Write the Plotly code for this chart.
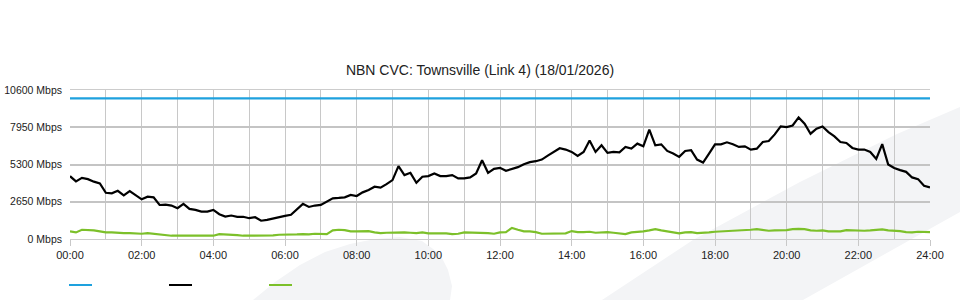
import plotly.graph_objects as go

# ---- data ----
minutes = [10 * i for i in range(145)]          # 00:00 .. 24:00 every 10 min
hours = [m / 60 for m in minutes]

capacity_hours = [0, 24]
capacity_mbps = [10000, 10000]

traffic_mbps = [
    4470, 4100, 4350, 4260, 4080, 3950, 3290, 3250, 3430, 3110, 3410, 3130,
    2820, 3010, 2960, 2420, 2450, 2380, 2190, 2500, 2140, 2070, 1950, 1950,
    2070, 1760, 1600, 1670, 1580, 1580, 1480, 1550, 1300, 1360, 1460, 1600,
    1650, 1720, 2120, 2500, 2280, 2380, 2424, 2636, 2895, 2920, 2966, 3131,
    3060, 3319, 3484, 3720, 3650, 3908, 4191, 5181, 4545, 4709, 4002, 4427,
    4474, 4662, 4474, 4474, 4545, 4309, 4309, 4380, 4662, 5605, 4709, 4992,
    5063, 4851, 4992, 5110, 5323, 5464, 5535, 5652, 5935, 6218, 6454, 6360,
    6194, 5912, 6194, 7000, 6194, 6666, 6124, 6194, 6170, 6548, 6430, 6783,
    6595, 7774, 6666, 6736, 6265, 6077, 5841, 6265, 6312, 5652, 5441, 6077,
    6736, 6736, 6877, 6736, 6548, 6595, 6360, 6430, 6901, 6972, 7443, 8008,
    7960, 8079, 8650, 8197, 7490, 7843, 8008, 7608, 7302, 6901, 6830, 6477,
    6360, 6360, 6194, 5700, 6750, 5300, 5050, 4900, 4777, 4380, 4261, 3790,
    3675,
]

upload_mbps = [
    540, 470, 657, 657, 610, 540, 470, 470, 420, 420, 420, 400,
    375, 420, 375, 300, 260, 233, 233, 233, 233, 257, 233, 233,
    233, 350, 330, 330, 280, 233, 233, 233, 233, 233, 257, 304,
    304, 280, 327, 351, 327, 375, 351, 351, 610, 657, 633, 540,
    540, 540, 563, 470, 422, 445, 470, 470, 470, 445, 422, 470,
    400, 400, 422, 400, 351, 375, 470, 470, 445, 470, 422, 375,
    470, 490, 790, 657, 540, 540, 490, 375, 375, 375, 375, 400,
    563, 490, 490, 515, 445, 470, 490, 445, 422, 351, 470, 490,
    540, 610, 700, 610, 540, 422, 400, 470, 490, 422, 422, 470,
    515, 540, 540, 540, 563, 610, 657, 700, 657, 587, 610, 610,
    633, 700, 727, 700, 610, 587, 610, 540, 540, 540, 633, 610,
    587, 587, 610, 657, 680, 610, 610, 563, 490, 470, 515, 515,
    490,
]

y_ticks = [0, 2650, 5300, 7950, 10600]
y_tick_labels = ["0 Mbps", "2650 Mbps", "5300 Mbps", "7950 Mbps", "10600 Mbps"]
x_ticks = list(range(0, 25, 2))
x_tick_labels = ["00:00", "02:00", "04:00", "06:00", "08:00", "10:00", "12:00",
                 "14:00", "16:00", "18:00", "20:00", "22:00", "24:00"]

title_text = "NBN CVC: Townsville (Link 4) (18/01/2026)"

BLUE = "#1ea1de"
BLACK = "#000000"
GREEN = "#7cc02a"

# ---- layout geometry (pixels) ----
W, H = 960, 300
L, R, T, B = 70, 30, 90, 61
PW, PH = W - L - R, H - T - B


def px(x):
    return (x - L) / PW


def py(y):
    return (H - B - y) / PH


def path(points):
    return "M " + " L ".join(f"{px(x):.4f},{py(y):.4f}" for x, y in points) + " Z"


fig = go.Figure()
fig.add_trace(go.Scatter(x=capacity_hours, y=capacity_mbps, mode="lines",
                         line=dict(color=BLUE, width=2.2), showlegend=False))
fig.add_trace(go.Scatter(x=hours, y=traffic_mbps, mode="lines",
                         line=dict(color=BLACK, width=2.2), showlegend=False))
fig.add_trace(go.Scatter(x=hours, y=upload_mbps, mode="lines",
                         line=dict(color=GREEN, width=2.2), showlegend=False))

shapes = []
# faint background watermark
wm = "#f3f4f6"
shapes.append(dict(type="path", xref="paper", yref="paper", layer="below",
                   line=dict(width=0), fillcolor=wm,
                   path=path([(253, 300), (275, 282), (300, 265), (325, 252), (350, 244),
                              (375, 239), (400, 237), (422, 241), (440, 254), (448, 270),
                              (452, 286), (450, 300)])))
shapes.append(dict(type="path", xref="paper", yref="paper", layer="below",
                   line=dict(width=0), fillcolor=wm,
                   path=path([(602, 300), (693, 240), (800, 182), (897, 134), (960, 107),
                              (960, 212), (910, 240), (803, 300)])))
# legend swatches (no text in the reference)
for x0, c in [(69, BLUE), (169, BLACK), (269, GREEN)]:
    shapes.append(dict(type="line", xref="paper", yref="paper",
                       x0=px(x0), x1=px(x0 + 23), y0=py(285), y1=py(285),
                       line=dict(color=c, width=2)))

fig.update_layout(
    width=W, height=H,
    margin=dict(l=L, r=R, t=T, b=B),
    paper_bgcolor="white",
    plot_bgcolor="rgba(0,0,0,0)",
    font=dict(family="Liberation Sans, Arial, sans-serif", size=11, color="#333"),
    title=dict(text=title_text, x=0.5, xanchor="center", y=1 - 70 / H,
               yanchor="middle", yref="container",
               font=dict(size=14, color="#222")),
    shapes=shapes,
    showlegend=False,
)

fig.update_xaxes(
    range=[0, 24], tickvals=x_ticks, ticktext=x_tick_labels,
    automargin=False,
    showgrid=True, gridcolor="#c8c8c8", gridwidth=1,
    ticks="outside", ticklen=6, tickcolor="#c8c8c8",
    showline=True, linecolor="#cccccc", linewidth=1, mirror=True,
    zeroline=False,
    minor=dict(dtick=1, tick0=0, showgrid=True, gridcolor="#c8c8c8", gridwidth=1, ticks=""),
    tickfont=dict(size=11, color="#222"),
)
fig.update_yaxes(
    range=[0, 10600], tickvals=y_ticks, ticktext=y_tick_labels,
    automargin=False,
    showgrid=True, gridcolor="#c4c4c4", gridwidth=2,
    zeroline=False, showline=False, ticks="",
    ticklabelstandoff=7,
    tickfont=dict(size=10.5, color="#222"),
)

fig.write_html("out.html")
